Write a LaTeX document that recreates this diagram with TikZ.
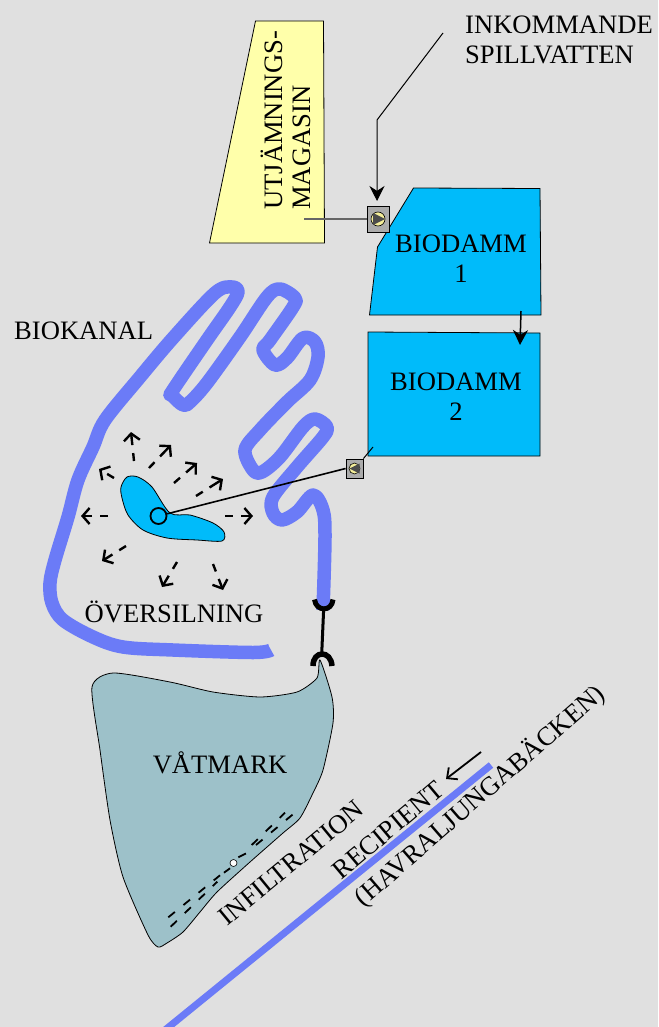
\documentclass[tikz,border=0pt]{standalone}
\usepackage{fontspec}
\setmainfont{Liberation Serif}
\usetikzlibrary{arrows.meta, positioning, calc}
\definecolor{bgcol}{HTML}{E0E0E0}
\definecolor{pondcol}{HTML}{00BBFA}
\definecolor{basincol}{HTML}{FFFFAA}
\definecolor{canalcol}{HTML}{6B7BF7}
\definecolor{wetcol}{HTML}{9DC1C9}
\definecolor{pumpcol}{HTML}{ABABAB}
\definecolor{wheelcol}{HTML}{F4EE9A}

\begin{document}
\begin{tikzpicture}[x=1pt, y=-1pt,
  label/.style={font=\fontsize{26.6}{30}\selectfont, align=center, inner sep=0pt},
  area/.style={draw, line width=0.8pt},
  canal/.style={canalcol, line width=13.5pt, line join=round},
  conn/.style={-{Stealth[length=15pt, width=15pt]}, line width=1pt},
  spread/.style={-{Straight Barb[length=7pt, width=16pt, line width=2.4pt]}, line width=2.4pt,
    dash pattern=on 8pt off 8pt on 30pt},
  pumpbox/.style={draw, fill=pumpcol, line width=0.8pt, inner sep=0pt},
  wheel/.style={draw, circle, fill=wheelcol, line width=0.6pt, minimum size=14pt, inner sep=0pt},
  drain/.style={line width=1.8pt, dash pattern=on 8.5pt off 11pt},
]
\useasboundingbox (0,0) rectangle (658,1027);
\fill[bgcol] (0,0) rectangle (658,1027);

% =================== TOP: basin and ponds ===================
\draw[area, fill=basincol] (255.5,21) -- (323.5,21) -- (324.5,243) -- (209.5,243) -- cycle;
\node[label, rotate=90, align=left, anchor=west] (basin1) at (272,210) {UTJÄMNINGS-};
\node[label, rotate=90, align=left, anchor=west] (basin2) at (302,210) {MAGASIN};

\draw[area, fill=pondcol] (413.5,188) -- (540,188.5) -- (541,315) -- (369.5,315) -- (377.5,247) -- cycle;
\draw[area, fill=pondcol] (368,332) -- (540,333) -- (540,456) -- (368,456) -- cycle;
\node[label] (dam1) at (461,259) {BIODAMM\\1};
\node[label] (dam2) at (456,397) {BIODAMM\\2};

\node[label, align=left, anchor=west] (inflow) at (465,40) {INKOMMANDE\\SPILLVATTEN};

% pumps
\node[pumpbox, minimum width=22pt, minimum height=26pt] (pump1) at (378,219) {};
\node[wheel] (wheel1) at (pump1) {};
\fill[black!70] (wheel1.center) ++(-5,-6) -- ++(12,6) -- ++(-12,6) -- cycle;
\node[pumpbox, minimum width=17pt, minimum height=19pt] (pump2) at (354.5,468.5) {};
\node[wheel, minimum size=11pt] (wheel2) at (pump2) {};
\fill[black!70] (wheel2.center) ++(5,-5) -- ++(-10,5) -- ++(10,5) -- cycle;

\coordinate (inA) at (443,33);
\coordinate (inB) at (377,120);
\coordinate (inC) at (377,201);
\draw[conn] (inA) -- (inB) -- (inC);
\coordinate (suction) at (304,219);
\draw[black!60, line width=1.2pt] (suction) -- (pump1.west);
\coordinate (damOut) at (521,311);
\coordinate (damIn) at (520,345);
\draw[conn, line width=1.5pt] (damOut) -- (damIn);
\coordinate (damTap) at (373,447);
\draw[line width=1pt] (damTap) -- (pump2.north east);

% =================== MIDDLE: canal and overland flow ===================
\draw[canal] plot[smooth, tension=0.55] coordinates {
  (271,650) (253,652.5) (173,650) (123,647) (93,637) (63,620) (52,603) (50,583) (55,560)
  (68,517) (78,480) (93,447) (105,420) (140,377) (173,338) (215,293) (232,287) (238,292)
  (230,307) (207,340) (173,390) (172,395) (183,405) (190,402) (207,383) (240,337) (267,297)
  (280,289) (295,298) (293,307) (270,340) (263,350) (275,365) (287,358) (303,338) (315,342)
  (318,357) (310,380) (287,402) (260,430) (245,450) (253,470) (262,472) (280,457) (303,427)
  (315,419) (327,427) (323,437) (297,467) (273,497) (273,513) (282,520) (297,512) (313,495)
  (323,510) (325,537) (323,610)};
\node[label, anchor=west] (canallabel) at (14,331) {BIOKANAL};

\draw[area, fill=pondcol] plot[smooth cycle, tension=0.5] coordinates {
  (121,487) (127,477) (138,477) (152,487) (170,513) (190,515) (213,523) (224,532)
  (222,541) (197,540) (167,538) (143,530) (128,515) (122,498)};
\node[draw, circle, line width=1.8pt, minimum size=16pt, inner sep=0pt] (outlet) at (158.5,516) {};
\draw[line width=1.6pt] (outlet) -- (pump2.west);

% tail/tip pairs
\foreach \tx/\ty/\hx/\hy in {108/516/81/516, 134/461/131/432, 149/468/171/445, 174/483/197/463,
    196/496/223/479, 225/516/253/516, 213/564/223/590, 177/562/162/587, 126/546/102/561, 114/478/99/469}
  \draw[spread] (\tx,\ty) -- (\hx,\hy);

\node[label] (overland) at (174,612) {ÖVERSILNING};

% =================== BOTTOM: wetland and stream ===================
\draw[area, fill=wetcol] plot[smooth cycle, tension=0.4] coordinates {
  (92,687) (113,673) (170,682) (213,692) (260,697) (297,692) (317,678) (320,660)
  (332,697) (333,723) (323,770) (313,793) (300,818) (283,833) (250,862) (217,892) (200,912)
  (183,932) (167,943) (158,947) (148,935) (123,877) (110,820) (100,750)};
\node[label] (wetland) at (220,763) {VÅTMARK};

% coupling
\coordinate (cupTop) at (323.7,608);
\coordinate (cupLow) at (321.7,654);
\draw[line width=3pt] (cupTop) -- (cupLow);
\draw[line width=5pt] (314.5,599.5) .. controls (316,612) and (332,612) .. (333,599.5);
\draw[line width=5.5pt] (313,666) .. controls (313,650) and (331,650) .. (332,666);

% infiltration pipes, start/end pairs
\foreach \sx/\sy/\ex/\ey in {168.3/917.3/220/875.3, 170.7/926.7/217.3/881.7, 224/872.7/230/868.3,
    238.3/857.3/249.3/851.7, 251.7/845/285/812.7, 256/845/293.3/814}
  \draw[drain] (\sx,\sy) -- (\ex,\ey);
\node[draw, circle, fill=white, line width=0.6pt, minimum size=7pt, inner sep=0pt] (well) at (233.5,863) {};

\node[label, rotate=39.5] (infiltr) at (291,863) {INFILTRATION};

\coordinate (streamA) at (165,1030);
\coordinate (streamB) at (491,765);
\draw[canalcol, line width=7pt] (streamA) -- (streamB);
\node[label, rotate=40] (recip) at (388,830) {RECIPIENT};
\node[label, rotate=41] (stream) at (480,796) {(HAVRALJUNGABÄCKEN)};
\coordinate (flowA) at (481,752);
\coordinate (flowB) at (446,779);
\draw[-{Straight Barb[length=8pt, width=15pt, line width=1.8pt]}, line width=1.8pt] (flowA) -- (flowB);

\end{tikzpicture}
\end{document}
